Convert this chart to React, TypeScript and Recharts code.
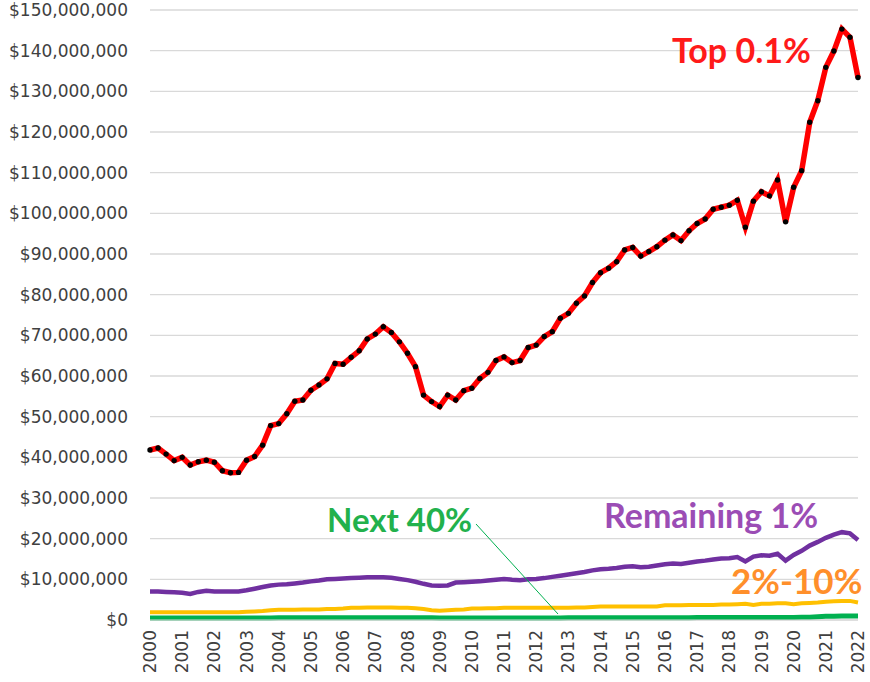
import React from 'react';
import { LineChart, Line, XAxis, YAxis, CartesianGrid } from 'recharts';

// quarterly average wealth, millions of dollars, 2000 Q1 .. 2022 Q1
const years = [
  '2000', '2001', '2002', '2003', '2004', '2005', '2006', '2007', '2008', '2009', '2010', '2011',
  '2012', '2013', '2014', '2015', '2016', '2017', '2018', '2019', '2020', '2021', '2022',
];
const quarters = ['Q1', 'Q2', 'Q3', 'Q4'];

const top01 = [
  41.8, 42.3, 40.8, 39.2,
  40.0, 38.1, 38.9, 39.3,
  38.8, 36.7, 36.2, 36.3,
  39.3, 40.2, 43.0, 47.8,
  48.3, 50.7, 53.8, 54.1,
  56.5, 57.8, 59.3, 63.1,
  62.9, 64.6, 66.2, 69.1,
  70.3, 72.1, 70.7, 68.4,
  65.6, 62.3, 55.3, 53.7,
  52.5, 55.3, 54.1, 56.4,
  57.0, 59.4, 60.9, 63.8,
  64.7, 63.3, 63.8, 67.0,
  67.6, 69.7, 70.9, 74.2,
  75.4, 77.9, 79.7, 83.0,
  85.4, 86.5, 88.1, 91.0,
  91.6, 89.5, 90.6, 91.8,
  93.4, 94.7, 93.3, 95.7,
  97.5, 98.6, 101.0, 101.5,
  102.0, 103.2, 96.6, 103.0,
  105.3, 104.3, 108.2, 97.9,
  106.4, 110.5, 122.4, 127.7,
  135.9, 139.9, 145.3, 143.3,
  133.4,
];

const remaining1 = [
  7.0, 7.0, 6.9, 6.8,
  6.7, 6.4, 6.9, 7.2,
  7.0, 7.0, 7.0, 7.0,
  7.3, 7.7, 8.1, 8.5,
  8.7, 8.8, 9.0, 9.2,
  9.5, 9.7, 10.0, 10.1,
  10.2, 10.3, 10.4, 10.5,
  10.5, 10.5, 10.4, 10.1,
  9.8, 9.4, 8.9, 8.5,
  8.4, 8.5, 9.2, 9.3,
  9.4, 9.5, 9.7, 9.9,
  10.1, 9.9, 9.8, 10.0,
  10.1, 10.3, 10.6, 10.9,
  11.2, 11.5, 11.8, 12.2,
  12.5, 12.6, 12.8, 13.1,
  13.2, 13.0, 13.1, 13.4,
  13.7, 13.9, 13.8, 14.1,
  14.4, 14.6, 14.9, 15.1,
  15.2, 15.5, 14.4, 15.6,
  15.9, 15.8, 16.3, 14.6,
  16.0, 17.0, 18.3, 19.2,
  20.2, 21.0, 21.6, 21.3,
  19.7,
];

const pct2to10 = [
  1.9, 1.9, 1.9, 1.9,
  1.9, 1.9, 1.9, 1.9,
  1.9, 1.9, 1.9, 1.9,
  2.0, 2.1, 2.2, 2.4,
  2.5, 2.5, 2.5, 2.6,
  2.6, 2.6, 2.7, 2.7,
  2.8, 3.0, 3.0, 3.1,
  3.1, 3.1, 3.1, 3.0,
  3.0, 2.9, 2.7, 2.4,
  2.3, 2.4, 2.5, 2.6,
  2.8, 2.8, 2.9, 2.9,
  3.0, 3.0, 3.0, 3.0,
  3.0, 3.0, 3.0, 3.0,
  3.0, 3.1, 3.1, 3.2,
  3.3, 3.3, 3.3, 3.3,
  3.3, 3.3, 3.3, 3.3,
  3.6, 3.6, 3.6, 3.7,
  3.7, 3.7, 3.7, 3.8,
  3.8, 3.9, 4.0, 3.7,
  4.0, 4.0, 4.1, 4.1,
  3.9, 4.1, 4.2, 4.3,
  4.5, 4.6, 4.7, 4.7,
  4.3,
];

const next40 = [
  0.5, 0.5, 0.5, 0.5,
  0.5, 0.5, 0.5, 0.5,
  0.5, 0.5, 0.5, 0.5,
  0.5, 0.5, 0.5, 0.5,
  0.55, 0.55, 0.55, 0.55,
  0.55, 0.55, 0.55, 0.55,
  0.55, 0.55, 0.55, 0.55,
  0.55, 0.55, 0.55, 0.55,
  0.55, 0.55, 0.55, 0.55,
  0.5, 0.5, 0.5, 0.5,
  0.5, 0.5, 0.5, 0.5,
  0.5, 0.5, 0.5, 0.5,
  0.5, 0.5, 0.5, 0.5,
  0.55, 0.55, 0.55, 0.55,
  0.55, 0.55, 0.55, 0.55,
  0.55, 0.55, 0.55, 0.55,
  0.55, 0.55, 0.55, 0.55,
  0.6, 0.6, 0.6, 0.6,
  0.6, 0.6, 0.6, 0.6,
  0.6, 0.6, 0.6, 0.6,
  0.6, 0.65, 0.7, 0.8,
  0.9, 0.95, 1.0, 1.0,
  1.0,
];

const yTicks = [0, 10, 20, 30, 40, 50, 60, 70, 80, 90, 100, 110, 120, 130, 140, 150];

const categories = years.flatMap((y) => quarters.map((q) => `${y} ${q}`)).slice(0, top01.length);

const data = categories.map((c, i) => ({
  quarter: c,
  top: top01[i],
  rem: remaining1[i],
  mid: pct2to10[i],
  next: next40[i],
}));

const tickFont = 'DejaVu Sans, Verdana, sans-serif';
const labelFont = 'Lato, "Open Sans", sans-serif';

const fmtMoney = (v: number) => (v === 0 ? '$0' : `$${v},000,000`);

const YearTick = ({ x, y, payload }: any) => {
  const year = String(payload.value).slice(0, 4);
  return (
    <text
      x={x}
      y={y}
      transform={`rotate(-90 ${x} ${y})`}
      textAnchor="end"
      dy="0.36em"
      fill="#404040"
      fontSize={17}
      fontFamily={tickFont}
    >
      {year}
    </text>
  );
};

const App = () => {
  return (
    <div style={{ position: 'absolute', left: 0, top: 0, width: 870, height: 682, background: '#fff' }}>
      <LineChart width={870} height={682} data={data} margin={{ top: 10, right: 12, bottom: 0, left: 0 }}>
        <CartesianGrid vertical={false} stroke="#d9d9d9" strokeWidth={1.3} />
        <XAxis
          dataKey="quarter"
          interval={3}
          height={62}
          tickSize={0}
          tickMargin={10}
          tick={YearTick}
          axisLine={{ stroke: '#d9d9d9' }}
        />
        <YAxis
          domain={[0, 150]}
          ticks={yTicks}
          width={150}
          tickSize={0}
          tickMargin={22}
          axisLine={false}
          tickFormatter={fmtMoney}
          tick={{ fill: '#404040', fontSize: 17, fontFamily: tickFont }}
        />
        <Line dataKey="next" stroke="#00b050" strokeWidth={5} dot={false} isAnimationActive={false} />
        <Line dataKey="mid" stroke="#ffc000" strokeWidth={4} dot={false} isAnimationActive={false} />
        <Line dataKey="rem" stroke="#7030a0" strokeWidth={4.5} dot={false} isAnimationActive={false} />
        <Line
          dataKey="top"
          stroke="#ff0000"
          strokeWidth={5.5}
          dot={{ r: 2.7, fill: '#000', stroke: 'none' }}
          isAnimationActive={false}
        />
      </LineChart>
      <svg
        width={870}
        height={682}
        style={{ position: 'absolute', left: 0, top: 0, pointerEvents: 'none' }}
      >
        <line x1={476} y1={524} x2={558} y2={614} stroke="#00b050" strokeWidth={1} />
        <text x={672} y={63} fill="#ff1a1a" fontSize={34} fontWeight={700} fontFamily={labelFont}>
          Top 0.1%
        </text>
        <text x={604} y={528} fill="#9b4db5" fontSize={34} fontWeight={700} fontFamily={labelFont}>
          Remaining 1%
        </text>
        <text x={327} y={532} fill="#22b14c" fontSize={33} fontWeight={700} fontFamily={labelFont}>
          Next 40%
        </text>
        <text x={731} y={594} fill="#ff8f2b" fontSize={35} fontWeight={700} fontFamily={labelFont}>
          2%-10%
        </text>
      </svg>
    </div>
  );
};

export default App;
